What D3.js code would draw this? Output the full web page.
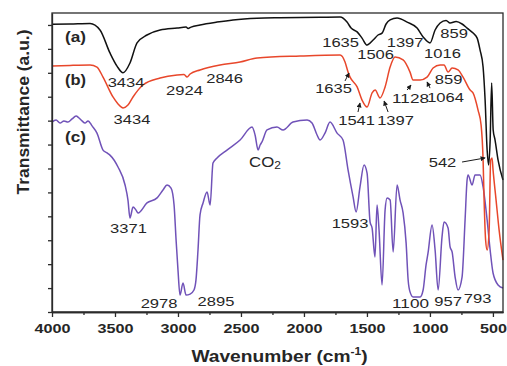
<!DOCTYPE html>
<html>
<head>
<meta charset="utf-8">
<script src="https://cdn.jsdelivr.net/npm/d3@7"></script>
<style>
  body { margin: 0; background: #fff; }
  svg { display: block; font-family: "Liberation Sans", Arial, Helvetica, sans-serif; }
</style>
</head>
<body>
<svg id="chart" width="507" height="366"></svg>
<script>
// spectra: [wavenumber (cm-1), transmittance (a.u.)]
const spectrumA = [[4000,12.03],[3857,12.04],[3698,12.06],[3619,11.79],[3540,10.83],[3484,10.28],[3436,10.0],[3381,10.41],[3325,11.25],[3246,11.58],[3142,11.79],[3007,11.87],[2936,11.91],[2920,11.85],[2896,11.91],[2825,12.0],[2690,12.12],[2563,12.21],[2372,12.28],[2190,12.3],[2031,12.31],[1872,12.32],[1713,12.33],[1658,12.12],[1626,11.87],[1578,11.71],[1539,11.45],[1499,11.16],[1451,11.37],[1412,11.58],[1380,11.66],[1348,12.04],[1316,12.21],[1261,12.29],[1181,12.12],[1102,11.87],[1054,11.5],[999,11.25],[959,11.79],[919,12.08],[872,12.19],[840,12.08],[792,12.14],[745,12.04],[705,11.87],[657,11.66],[625,11.45],[602,10.95],[578,10.24],[562,8.86],[546,6.77],[534,6.15],[522,7.19],[510,9.57],[498,7.61],[483,7.19],[459,6.35],[420,5.52]];

const spectrumB = [[4000,10.28],[3857,10.31],[3698,10.33],[3643,10.24],[3595,9.82],[3516,8.99],[3476,8.7],[3436,8.53],[3397,8.65],[3357,8.99],[3278,9.49],[3142,9.78],[3007,9.91],[2952,9.93],[2928,9.82],[2904,9.95],[2825,10.12],[2666,10.33],[2507,10.45],[2372,10.62],[2031,10.7],[1713,10.74],[1674,10.45],[1650,10.03],[1634,9.82],[1578,9.41],[1539,8.86],[1499,8.57],[1459,9.16],[1435,9.28],[1396,8.95],[1356,9.41],[1316,10.24],[1277,10.66],[1213,10.54],[1158,10.03],[1134,9.7],[1078,9.7],[1023,9.82],[975,10.2],[919,10.33],[888,10.33],[856,10.03],[824,10.2],[777,10.12],[737,9.82],[681,9.28],[658,9.16],[618,8.44],[594,7.82],[578,6.35],[570,4.68],[558,3.01],[546,2.59],[530,3.43],[518,6.35],[507,6.44],[499,5.94],[475,4.68],[451,3.43],[420,2.17]];

const spectrumC = [[4000,7.94],[3968,8.03],[3936,7.9],[3905,7.99],[3873,7.94],[3841,8.07],[3809,8.19],[3786,8.11],[3762,7.99],[3738,7.9],[3714,7.99],[3682,7.78],[3643,7.48],[3595,6.77],[3563,6.65],[3540,6.56],[3476,6.06],[3420,5.31],[3397,4.68],[3381,3.93],[3357,4.39],[3333,4.26],[3317,4.14],[3246,4.56],[3166,4.77],[3119,5.1],[3087,5.31],[3055,5.18],[3031,4.47],[3015,3.01],[3000,1.76],[2984,0.71],[2960,1.21],[2936,0.71],[2904,0.75],[2873,0.92],[2857,1.34],[2841,2.59],[2825,4.06],[2801,4.56],[2769,5.02],[2745,4.47],[2722,6.23],[2690,6.44],[2611,6.77],[2507,7.19],[2412,7.73],[2388,7.4],[2364,6.77],[2348,6.98],[2333,7.11],[2293,7.61],[2214,7.73],[2166,7.61],[2087,7.94],[1975,8.03],[1936,7.9],[1896,7.4],[1872,7.19],[1833,7.48],[1793,7.94],[1737,7.48],[1690,7.19],[1650,5.94],[1610,4.81],[1586,4.18],[1555,5.23],[1523,6.15],[1499,5.81],[1475,3.76],[1459,3.51],[1436,2.3],[1420,4.47],[1404,3.43],[1380,1.13],[1356,4.26],[1340,4.77],[1316,4.68],[1292,2.51],[1261,5.31],[1237,4.68],[1213,4.14],[1189,2.88],[1173,1.34],[1158,0.84],[1134,0.63],[1078,0.63],[1054,0.92],[1031,1.96],[1015,2.47],[983,3.64],[959,2.59],[935,0.92],[904,3.14],[888,3.76],[856,3.51],[840,2.72],[824,2.51],[800,1.46],[777,0.92],[745,1.46],[721,3.85],[705,5.52],[697,5.73],[665,5.31],[642,5.73],[602,5.73],[578,5.23],[546,3.85],[522,2.59],[499,1.63],[459,1.13],[420,1.0]];

const seriesColors = { a: "#111111", b: "#e8472b", c: "#7052b8" };

const xTicks = [4000, 3500, 3000, 2500, 2000, 1500, 1000, 500];
const xMinorTicks = [3750, 3250, 2750, 2250, 1750, 1250, 750];
const yTicks = [0, 1, 2, 3, 4, 5, 6, 7, 8, 9, 10, 11, 12];

// curve tags
const curveTags = [
  { t: "(a)", wn: 3813, v: 11.29 },
  { t: "(b)", wn: 3813, v: 9.49 },
  { t: "(c)", wn: 3813, v: 7.11 }
];

// band labels (centre wavenumber, baseline)
const bandLabels = [
  { t: "3434", wn: 3412, v: 9.41 },
  { t: "3434", wn: 3365, v: 7.86 },
  { t: "2924", wn: 2948, v: 9.07 },
  { t: "2846", wn: 2630, v: 9.57 },
  { t: "1635", wn: 1709, v: 11.08 },
  { t: "1506", wn: 1431, v: 10.58 },
  { t: "1397", wn: 1197, v: 11.08 },
  { t: "859",  wn: 808,  v: 11.45 },
  { t: "1016", wn: 900,  v: 10.62 },
  { t: "1635", wn: 1765, v: 9.16 },
  { t: "1541", wn: 1582, v: 7.82 },
  { t: "1397", wn: 1273, v: 7.82 },
  { t: "1128", wn: 1154, v: 8.74 },
  { t: "859",  wn: 852,  v: 9.53 },
  { t: "1064", wn: 876,  v: 8.8 },
  { t: "3371", wn: 3393, v: 3.3 },
  { t: "542",  wn: 900,  v: 6.06 },
  { t: "1593", wn: 1634, v: 3.51 },
  { t: "2978", wn: 3150, v: 0.17 },
  { t: "2895", wn: 2698, v: 0.25 },
  { t: "1100", wn: 1154, v: 0.17 },
  { t: "957",  wn: 856,  v: 0.25 },
  { t: "793",  wn: 622,  v: 0.38 }
];

const co2Label = { wn: 2309, v: 6.06 };

// small pointer arrows [from, to]
const pointers = [
  [[1674, 9.66], [1642, 9.99]],
  [[1571, 8.36], [1555, 8.74]],
  [[1332, 8.36], [1364, 8.82]],
  [[1181, 9.28], [1150, 9.49]],
  [[999, 9.36], [1023, 9.62]],
  [[745, 6.27], [562, 6.44]]
];

const width = 507, height = 366;
const margin = { top: 13, right: 4, bottom: 54, left: 52 };

const svg = d3.select("#chart");
svg.append("rect").attr("width", width).attr("height", height).attr("fill", "#fff");

const x = d3.scaleLinear().domain([4000, 420]).range([margin.left, width - margin.right]);
const y = d3.scaleLinear().domain([0, 12.5]).range([height - margin.bottom, margin.top]);

const axisColor = "#2b2b2b";
const textColor = "#262626";

svg.append("defs").append("marker")
  .attr("id", "ah")
  .attr("viewBox", "0 0 10 10")
  .attr("refX", 9).attr("refY", 5)
  .attr("markerWidth", 5).attr("markerHeight", 5)
  .attr("orient", "auto")
  .append("path").attr("d", "M0,0L10,5L0,10z").attr("fill", "#1a1a1a");

// lines
const line = d3.line()
  .x(d => x(d[0]))
  .y(d => y(d[1]))
  .curve(d3.curveMonotoneX);

const plot = svg.append("g");
plot.append("path").datum(spectrumC)
  .attr("d", line).attr("fill", "none")
  .attr("stroke", seriesColors.c).attr("stroke-width", 1.5);
plot.append("path").datum(spectrumB)
  .attr("d", line).attr("fill", "none")
  .attr("stroke", seriesColors.b).attr("stroke-width", 1.5);
plot.append("path").datum(spectrumA)
  .attr("d", line).attr("fill", "none")
  .attr("stroke", seriesColors.a).attr("stroke-width", 1.5);

// frame
svg.append("rect")
  .attr("x", margin.left).attr("y", margin.top)
  .attr("width", width - margin.right - margin.left)
  .attr("height", height - margin.bottom - margin.top)
  .attr("fill", "none").attr("stroke", axisColor).attr("stroke-width", 1.3);

// x axis
const xAxisG = svg.append("g")
  .attr("transform", `translate(0,${height - margin.bottom})`)
  .call(d3.axisBottom(x).tickValues(xTicks).tickSize(5).tickSizeOuter(0).tickFormat(d3.format("d")));
svg.append("g")
  .attr("transform", `translate(0,${height - margin.bottom})`)
  .call(d3.axisBottom(x).tickValues(xMinorTicks).tickSize(3).tickSizeOuter(0).tickFormat(""));

// y axis (no labels)
svg.append("g")
  .attr("transform", `translate(${margin.left},0)`)
  .call(d3.axisLeft(y).tickValues(yTicks).tickSize(4).tickSizeOuter(0).tickFormat(""));

svg.selectAll(".domain").attr("stroke", axisColor).attr("stroke-width", 1.3);
svg.selectAll(".tick line").attr("stroke", axisColor).attr("stroke-width", 1.3);

xAxisG.selectAll("text")
  .attr("y", 21).attr("dy", 0)
  .attr("fill", textColor)
  .attr("font-size", 13).attr("font-weight", "bold")
  .attr("textLength", d => String(d).length * 9)
  .attr("lengthAdjust", "spacingAndGlyphs");

// axis titles
const xTitle = svg.append("text")
  .attr("transform", `translate(${(margin.left + width - margin.right) / 2 + 2},362) scale(1.2,1)`)
  .attr("text-anchor", "middle")
  .attr("font-size", 16).attr("font-weight", "bold").attr("fill", textColor);
xTitle.append("tspan").text("Wavenumber (cm");
xTitle.append("tspan").attr("font-size", 10).attr("dy", -7).text("-1");
xTitle.append("tspan").attr("dy", 7).text(")");

svg.append("text")
  .attr("transform", "translate(29,112) rotate(-90)")
  .attr("text-anchor", "middle")
  .attr("font-size", 16).attr("font-weight", "bold").attr("fill", textColor)
  .attr("textLength", 165).attr("lengthAdjust", "spacingAndGlyphs")
  .text("Transmittance (a.u.)");

// curve tags
svg.selectAll(".tag").data(curveTags).join("text")
  .attr("class", "tag")
  .attr("x", d => x(d.wn)).attr("y", d => y(d.v))
  .attr("text-anchor", "middle")
  .attr("font-size", 14).attr("font-weight", "bold").attr("fill", textColor)
  .attr("textLength", 21).attr("lengthAdjust", "spacingAndGlyphs")
  .text(d => d.t);

// band labels
svg.selectAll(".band").data(bandLabels).join("text")
  .attr("class", "band")
  .attr("x", d => x(d.wn)).attr("y", d => y(d.v))
  .attr("text-anchor", "middle")
  .attr("font-size", 13.5).attr("fill", textColor)
  .attr("textLength", d => d.t.length * 9.2)
  .attr("lengthAdjust", "spacingAndGlyphs")
  .text(d => d.t);

const co2 = svg.append("text")
  .attr("transform", `translate(${x(co2Label.wn)},${y(co2Label.v)}) scale(1.2,1)`)
  .attr("text-anchor", "middle")
  .attr("font-size", 14).attr("fill", textColor);
co2.append("tspan").text("CO");
co2.append("tspan").attr("font-size", 10).attr("dy", 2).text("2");

// pointers
svg.selectAll(".ptr").data(pointers).join("line")
  .attr("class", "ptr")
  .attr("x1", d => x(d[0][0])).attr("y1", d => y(d[0][1]))
  .attr("x2", d => x(d[1][0])).attr("y2", d => y(d[1][1]))
  .attr("stroke", "#1a1a1a").attr("stroke-width", 1)
  .attr("marker-end", "url(#ah)");
</script>
</body>
</html>
